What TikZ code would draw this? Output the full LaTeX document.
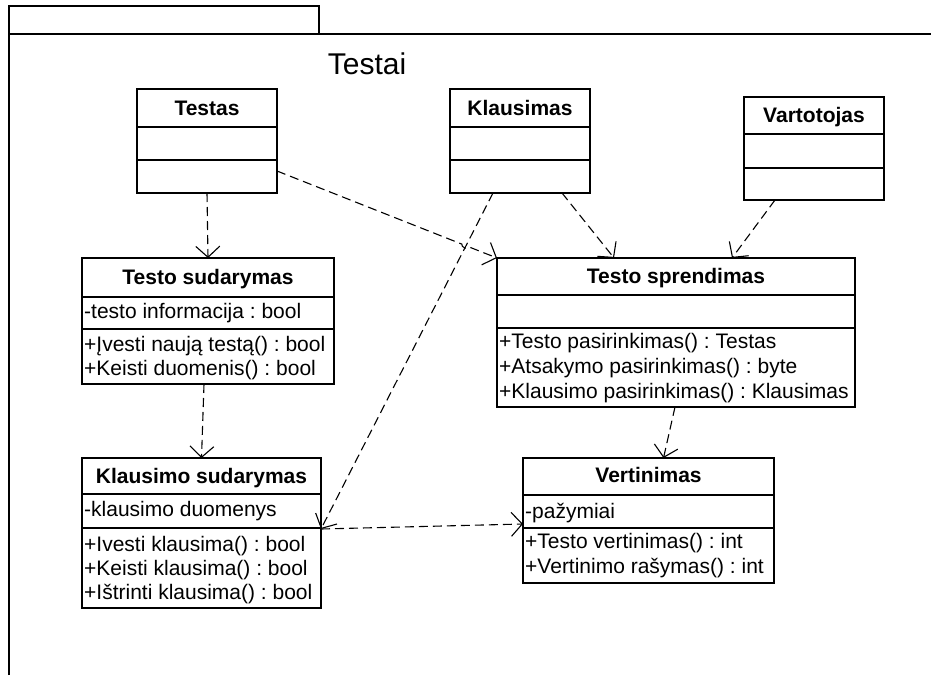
\documentclass[tikz,border=0pt]{standalone}
\usepackage{fontspec}
\setmainfont{Liberation Sans}
\usetikzlibrary{arrows.meta,calc}
\frenchspacing
\begin{document}
\begin{tikzpicture}[x=1pt,y=-1pt,
  cls/.style={draw, line width=1.8pt, fill=white, inner sep=0pt, outer sep=0pt, anchor=north west},
  sep/.style={line width=1.8pt},
  frame/.style={line width=1.8pt},
  ttl/.style={font=\bfseries\fontsize{21}{24}\selectfont, anchor=base, inner sep=0pt},
  mem/.style={font=\fontsize{21}{24}\selectfont, anchor=base west, inner sep=0pt},
  pkg/.style={font=\fontsize{30}{34}\selectfont, anchor=base, inner sep=0pt},
  dep/.style={line width=1.1pt, dash pattern=on 9pt off 5pt,
    -{Straight Barb[length=11pt,width=24pt,line width=1.1pt]}}]
\useasboundingbox (0,0) rectangle (931,675);
\fill[white] (0,0) rectangle (931,675);

% package frame with its tab
\draw[frame] (9,675) -- (9,6) -- (319,6) -- (319,34);
\draw[frame] (9,34) -- (931,34);
\node[pkg] (pkgname) at (367,74) {Testai};

% class boxes
\node[cls, minimum width=140pt, minimum height=104pt] (testas) at (137,89) {};
\draw[sep] (137,127) -- (277,127);
\draw[sep] (137,160) -- (277,160);
\node[ttl] (testasT) at (207,115) {Testas};

\node[cls, minimum width=140pt, minimum height=104pt] (klaus) at (450,89) {};
\draw[sep] (450,127) -- (590,127);
\draw[sep] (450,160) -- (590,160);
\node[ttl] (klausT) at (520,115) {Klausimas};

\node[cls, minimum width=140pt, minimum height=103pt] (vart) at (744,97) {};
\draw[sep] (744,134) -- (884,134);
\draw[sep] (744,168) -- (884,168);
\node[ttl] (vartT) at (814,122) {Vartotojas};

\node[cls, minimum width=252pt, minimum height=126pt] (tsud) at (82,258) {};
\draw[sep] (82,297) -- (334,297);
\draw[sep] (82,329) -- (334,329);
\node[ttl] (tsudT) at (208,284) {Testo sudarymas};
\node[mem] (tsudA) at (84,318) {-testo informacija : bool};
\node[mem] (tsudO1) at (84,351) {+Įvesti naują testą() : bool};
\node[mem] (tsudO2) at (84,375) {+Keisti duomenis() : bool};

\node[cls, minimum width=239pt, minimum height=150pt] (ksud) at (82,458) {};
\draw[sep] (82,494) -- (321,494);
\draw[sep] (82,528) -- (321,528);
\node[ttl] (ksudT) at (201.5,483) {Klausimo sudarymas};
\node[mem] (ksudA) at (84,516) {-klausimo duomenys};
\node[mem] (ksudO1) at (84,551) {+Ivesti klausima() : bool};
\node[mem] (ksudO2) at (84,575) {+Keisti klausima() : bool};
\node[mem] (ksudO3) at (84,599) {+Ištrinti klausima() : bool};

\node[cls, minimum width=358pt, minimum height=149pt] (tspr) at (497,258) {};
\draw[sep] (497,295) -- (855,295);
\draw[sep] (497,328) -- (855,328);
\node[ttl] (tsprT) at (676,283) {Testo sprendimas};
\node[mem] (tsprO1) at (499,348) {+Testo pasirinkimas() : Testas};
\node[mem] (tsprO2) at (499,373) {+Atsakymo pasirinkimas() : byte};
\node[mem] (tsprO3) at (499,398) {+Klausimo pasirinkimas() : Klausimas};

\node[cls, minimum width=251pt, minimum height=125pt] (vert) at (523,458) {};
\draw[sep] (523,495) -- (774,495);
\draw[sep] (523,528) -- (774,528);
\node[ttl] (vertT) at (648.5,482) {Vertinimas};
\node[mem] (vertA) at (525,518) {-pažymiai};
\node[mem] (vertO1) at (525,548) {+Testo vertinimas() : int};
\node[mem] (vertO2) at (525,573) {+Vertinimo rašymas() : int};

% dependency connectors
\coordinate (ta) at ([yshift=-30pt]testas.east);
\coordinate (kjoin) at ([yshift=4pt]ksud.east);

\draw[dep] (testas.south) -- (tsud.north);
\draw[dep] ([xshift=-4pt]tsud.south) -- (ksud.north);
\draw[dep] (ta) -- ($(ta)!0.84!(tspr.north west)$)
  to[bend right=90] ($(ta)!0.876!(tspr.north west)$) -- (tspr.north west);
\draw[dep] ([xshift=-27pt]klaus.south) -- (kjoin);
\draw[dep] ([xshift=42pt]klaus.south) -- ([xshift=-62pt]tspr.north);
\draw[dep] ([xshift=-39pt]vart.south) -- ([xshift=56pt]tspr.north);
\draw[dep] ([xshift=-1pt]tspr.south) -- ([xshift=15pt]vert.north);
\draw[dep] (kjoin) -- ([yshift=-3.5pt]vert.west);
\end{tikzpicture}
\end{document}
